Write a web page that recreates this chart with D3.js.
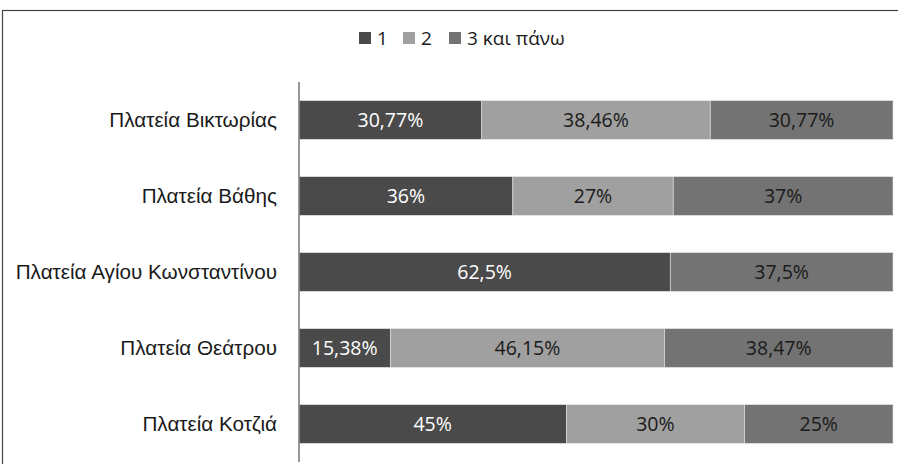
<!DOCTYPE html>
<html>
<head>
<meta charset="utf-8">
<script src="https://cdn.jsdelivr.net/npm/d3@7"></script>
<style>
    body { margin: 0; background: #fff; }
    svg { display: block; font-family: "Open Sans", "Noto Sans", sans-serif; }
</style>
</head>
<body>
<svg id="chart" width="898" height="464"></svg>
<script>
// categories, top to bottom
var categories = ["Πλατεία Βικτωρίας", "Πλατεία Βάθης", "Πλατεία Αγίου Κωνσταντίνου", "Πλατεία Θεάτρου", "Πλατεία Κοτζιά"];
var seriesNames = ["1", "2", "3 και πάνω"];
var values1 = [30.77, 36, 62.5, 15.38, 45];
var values2 = [38.46, 27, 0, 46.15, 30];
var values3 = [30.77, 37, 37.5, 38.47, 25];
var labels1 = ["30,77%", "36%", "62,5%", "15,38%", "45%"];
var labels2 = ["38,46%", "27%", "", "46,15%", "30%"];
var labels3 = ["30,77%", "37%", "37,5%", "38,47%", "25%"];

var colors = ["#4a4a4a", "#a0a0a0", "#737373"];
var textColors = ["#ffffff", "#1a1a1a", "#1a1a1a"];

var svg = d3.select("#chart");

// chart frame
svg.append("rect")
        .attr("x", 2.5).attr("y", 10.5)
        .attr("width", 898).attr("height", 460)
        .attr("fill", "none").attr("stroke", "#444").attr("stroke-width", 1.2);

var x = d3.scaleLinear().domain([0, 100]).range([299, 893]);
var y = d3.scaleBand().domain(categories).range([82, 462]).paddingInner(0.49).paddingOuter(0.245);

var table = categories.map(function (c, i) {
    return {cat: c, s0: values1[i], s1: values2[i], s2: values3[i]};
});
var allLabels = [labels1, labels2, labels3];
var stack = d3.stack().keys(["s0", "s1", "s2"])(table);

var layers = svg.selectAll("g.layer").data(stack).enter().append("g")
        .attr("class", "layer")
        .attr("fill", function (d, i) { return colors[i]; });

layers.selectAll("rect").data(function (d) { return d; }).enter().append("rect")
        .attr("x", function (d) { return x(d[0]); })
        .attr("y", function (d) { return y(d.data.cat); })
        .attr("width", function (d) { return x(d[1]) - x(d[0]); })
        .attr("height", y.bandwidth())
        .attr("stroke", "#e6e6e6")
        .attr("stroke-width", 0.6);

layers.each(function (layer, li) {
    d3.select(this).selectAll("text").data(layer).enter().append("text")
            .attr("x", function (d) { return (x(d[0]) + x(d[1])) / 2; })
            .attr("y", function (d) { return y(d.data.cat) + y.bandwidth() / 2; })
            .attr("dy", "0.35em")
            .attr("text-anchor", "middle")
            .style("font-size", "19.5px")
            .attr("fill", textColors[li])
            .text(function (d, i) { return allLabels[li][i]; });
});

// category axis
var yAxis = svg.append("g").attr("transform", "translate(299,0)")
        .call(d3.axisLeft(y).tickSize(0).tickPadding(22));
yAxis.select(".domain").attr("stroke", "#7f7f7f").attr("stroke-width", 1.6)
        .attr("d", "M0,82V462");
yAxis.selectAll("text").style("font-size", "20.7px").attr("font-family", null).attr("fill", "#1a1a1a");

// legend
var legendX = [359, 403, 449];
var legend = svg.append("g").selectAll("g").data(seriesNames).enter().append("g")
        .attr("transform", function (d, i) { return "translate(" + legendX[i] + ",32)"; });
legend.append("rect").attr("width", 12).attr("height", 12)
        .attr("fill", function (d, i) { return colors[i]; });
legend.append("text").attr("x", 18).attr("y", 6).attr("dy", "0.35em")
        .style("font-size", "19px").attr("fill", "#1a1a1a")
        .text(function (d) { return d; });
</script>
</body>
</html>
